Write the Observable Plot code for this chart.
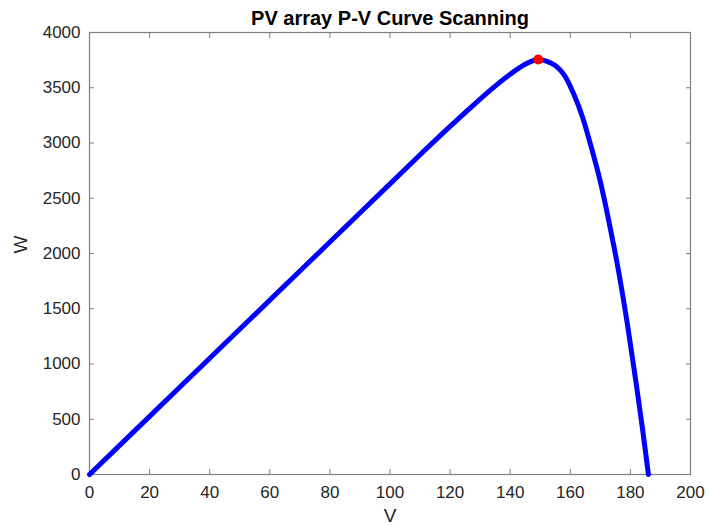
<!DOCTYPE html>
<html>
<head>
<meta charset="utf-8">
<script src="https://cdn.jsdelivr.net/npm/d3@7"></script>
<script src="https://cdn.jsdelivr.net/npm/@observablehq/plot@0.6"></script>
<style>
  html, body { margin: 0; padding: 0; background: #fff; }
  svg { display: block; }
</style>
</head>
<body>
<div id="chart"></div>
<script>
const voltage = [0, 20, 40, 60, 80, 100, 110, 120, 125, 130, 135, 140, 145, 149.3, 152, 155, 158, 161, 164, 167, 170, 173, 176, 179, 182, 184, 186];
const power   = [0, 526, 1052, 1578, 2104, 2630, 2893, 3150, 3275, 3398, 3515, 3622, 3712, 3756, 3742, 3702, 3615, 3452, 3240, 2960, 2650, 2270, 1850, 1360, 810, 420, 0];
const peakV = [149.3];
const peakW = [3756];
const xTicks = [0, 20, 40, 60, 80, 100, 120, 140, 160, 180, 200];
const yTicks = [0, 500, 1000, 1500, 2000, 2500, 3000, 3500, 4000];
const titleText = "PV array P-V Curve Scanning";
const xLabel = "V";
const yLabel = "W";

const curve = voltage.map((v, i) => ({v, w: power[i]}));
const peak = peakV.map((v, i) => ({v, w: peakW[i]}));

const axisColor = "#808080";
const textColor = "#262626";
const font = "'Liberation Sans', Arial, sans-serif";
const noLabel = () => "";

const chart = Plot.plot({
  width: 709,
  height: 525,
  marginLeft: 89,
  marginRight: 19,
  marginTop: 32,
  marginBottom: 51,
  style: {fontFamily: font, fontSize: "17px", color: textColor, background: "#fff"},
  x: {domain: [0, 200]},
  y: {domain: [0, 4000]},
  marks: [
    Plot.frame({stroke: axisColor, strokeWidth: 1.2}),
    Plot.axisX({ticks: xTicks, tickSize: -5, tickPadding: 16, tickFormat: d => String(d), stroke: axisColor, fill: textColor, label: null, fontSize: 17}),
    Plot.axisX({anchor: "top", ticks: xTicks, tickSize: -5, tickFormat: noLabel, stroke: axisColor, label: null}),
    Plot.axisY({ticks: yTicks, tickSize: -5, tickPadding: 14, tickFormat: d => String(d), stroke: axisColor, fill: textColor, label: null, fontSize: 17}),
    Plot.axisY({anchor: "right", ticks: yTicks, tickSize: -5, tickFormat: noLabel, stroke: axisColor, label: null}),
    Plot.line(curve, {x: "v", y: "w", stroke: "#0000FF", strokeWidth: 5, curve: "monotone-x"}),
    Plot.dot(peak, {x: "v", y: "w", r: 5, fill: "#FF0000", stroke: "none"}),
    Plot.text([titleText], {frameAnchor: "top", dy: -22, text: d => d, fontWeight: "bold", fontSize: 20, fill: "#000"}),
    Plot.text([xLabel], {frameAnchor: "bottom", dy: 47, text: d => d, fontSize: 19, fill: textColor}),
    Plot.text([yLabel], {frameAnchor: "left", dx: -69, text: d => d, rotate: -90, fontSize: 19, fill: textColor})
  ]
});
document.getElementById("chart").appendChild(chart);
</script>
</body>
</html>
